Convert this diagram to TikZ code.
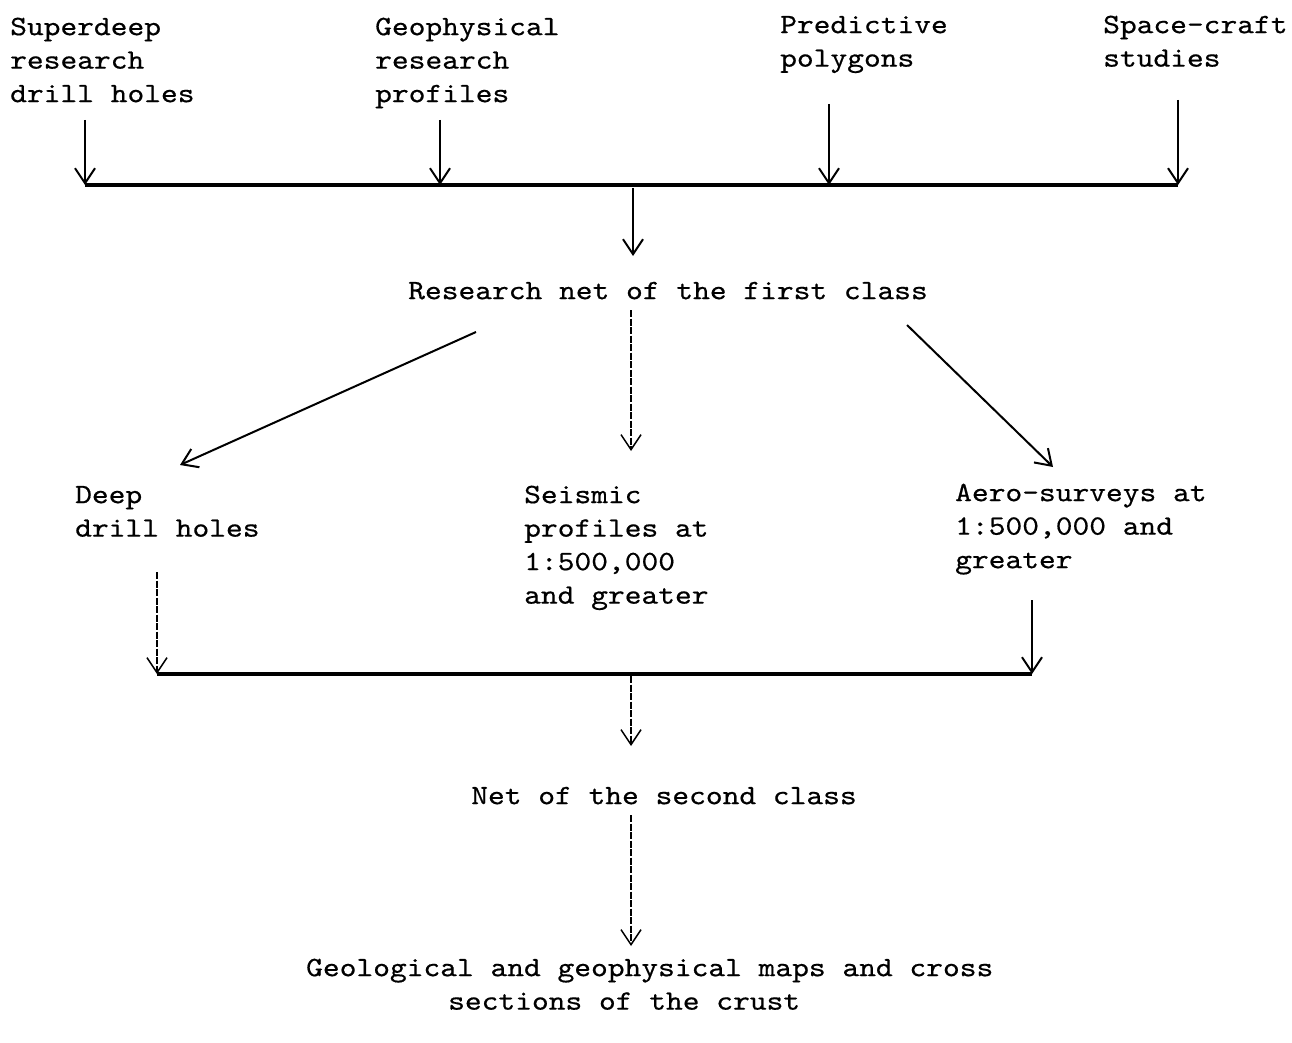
\documentclass[tikz,border=0pt]{standalone}
\usepackage{fontspec}
\newfontfamily\tw{lmmono10-regular}[Extension=.otf, FakeStretch=1.14, FakeBold=0.5]
\usetikzlibrary{arrows.meta}
\tikzset{
  lbl/.style={inner sep=0pt, font=\tw\fontsize{28}{33.5}\selectfont, text=black},
  lblL/.style={lbl, anchor=north west, align=left},
  lblC/.style={lbl, anchor=north, align=center},
  arr/.style={line width=2pt, -{Straight Barb[length=15pt,width=20pt]}},
  darr/.style={arr, line width=1.5pt, dash pattern=on 7pt off 1.5pt},
  bus/.style={line width=3.2pt}
}
\begin{document}
\begin{tikzpicture}[x=1pt,y=-1pt]
\useasboundingbox (0,0) rectangle (1292,1043);
% text nodes
\node[lblL] (sd)    at (10,11.5)   {\strut Superdeep\\research\\drill holes};
\node[lblL] (geo)   at (375,11.5)  {\strut Geophysical\\research\\profiles};
\node[lblL] (pred)  at (780,9.5)   {\strut Predictive\\polygons};
\node[lblL] (space) at (1103,9.5)  {\strut Space-craft\\studies};
\node[lblC] (rn)    at (668,275.5) {\strut Research net of the first class};
\node[lblL] (deep)  at (75,479.5)  {\strut Deep\\drill holes};
\node[lblL] (seis)  at (524,479.5) {\strut Seismic\\profiles at\\1:500,000\\and greater};
\node[lblL] (aero)  at (955,477.5) {\strut Aero-surveys at\\1:500,000 and\\greater};
\node[lblC] (net2)  at (664,780.5) {\strut Net of the second class};
\node[lblL] (maps)  at (306,952.5) {\strut Geological and geophysical maps and cross\\\hspace*{142pt}sections of the crust};
% connector points
\coordinate (s1) at (85,120);   \coordinate (e1) at (85,185);
\coordinate (s2) at (440,120);  \coordinate (e2) at (440,185);
\coordinate (s3) at (829,104);  \coordinate (e3) at (829,185);
\coordinate (s4) at (1178,100); \coordinate (e4) at (1178,185);
\coordinate (d1s) at (633,188); \coordinate (d1e) at (633,256);
\coordinate (ls) at (476,332);  \coordinate (le) at (180,465);
\coordinate (ms) at (631,310);  \coordinate (me) at (631,451);
\coordinate (rs) at (907,325);  \coordinate (re) at (1053,467);
\coordinate (ds) at (157,572);  \coordinate (de) at (157,674);
\coordinate (as) at (1032,600); \coordinate (ae) at (1032,674);
\coordinate (d2s) at (631,676); \coordinate (d2e) at (631,746);
\coordinate (d3s) at (631,815); \coordinate (d3e) at (631,946);
% connectors
\draw[bus] (e1) -- (e4);
\draw[arr] (s1) -- (e1);
\draw[arr] (s2) -- (e2);
\draw[arr] (s3) -- (e3);
\draw[arr] (s4) -- (e4);
\draw[arr] (d1s) -- (d1e);
\draw[arr] (ls) -- (le);
\draw[darr] (ms) -- (me);
\draw[arr] (rs) -- (re);
\draw[bus] (de) -- (ae);
\draw[darr] (ds) -- (de);
\draw[arr] (as) -- (ae);
\draw[darr] (d2s) -- (d2e);
\draw[darr] (d3s) -- (d3e);
\end{tikzpicture}
\end{document}
